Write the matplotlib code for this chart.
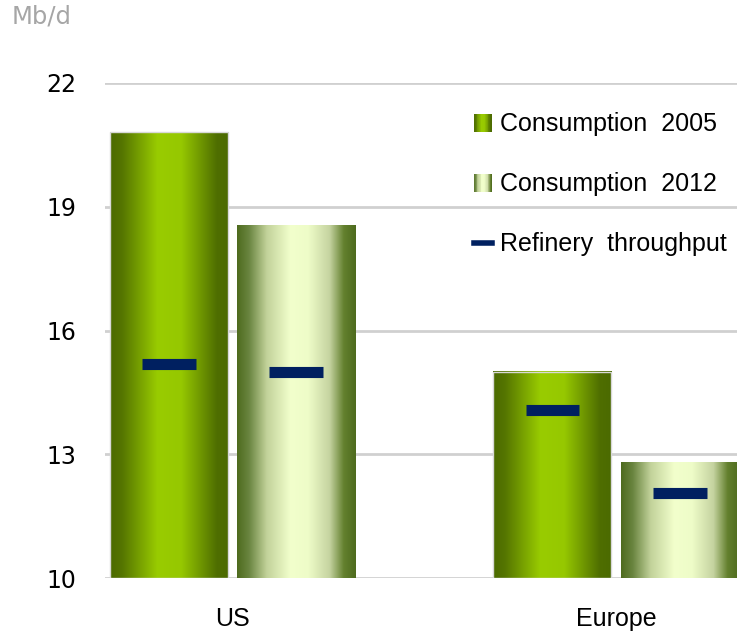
import numpy as np
import matplotlib
matplotlib.use("Agg")
import matplotlib.pyplot as plt
from matplotlib.colors import LinearSegmentedColormap
from matplotlib.patches import Patch, Rectangle
from matplotlib.lines import Line2D
from matplotlib.legend_handler import HandlerBase

regions = ["US", "Europe"]
consumption_2005 = [20.8, 15.0]
consumption_2012 = [18.55, 12.8]
refinery_throughput_2005 = [15.2, 14.08]
refinery_throughput_2012 = [15.0, 12.05]
series_labels = ["Consumption  2005", "Consumption  2012", "Refinery  throughput"]

cmap_2005 = LinearSegmentedColormap.from_list("c2005", [
    (0.0, "#4b6a00"), (0.1, "#557500"), (0.4, "#99cc00"),
    (0.6, "#96c800"), (0.9, "#4f6e00"), (1.0, "#4b6a00")])
cmap_2012 = LinearSegmentedColormap.from_list("c2012", [
    (0.0, "#4e6b1e"), (0.1, "#6a8540"), (0.25, "#c2d29a"), (0.45, "#f2ffcc"),
    (0.6, "#eefcc8"), (0.78, "#c5d3a0"), (0.9, "#63802e"), (1.0, "#4e6b1e")])
navy = "#002060"


class GradientHandler(HandlerBase):
    def __init__(self, cmap):
        super().__init__()
        self.cmap = cmap

    def create_artists(self, legend, orig_handle, xdescent, ydescent,
                       width, height, fontsize, trans):
        n = 24
        out = []
        for i in range(n):
            r = Rectangle((-xdescent + width * i / n, -ydescent), width / n * 1.05, height,
                          facecolor=self.cmap((i + 0.5) / n), edgecolor="none", transform=trans)
            out.append(r)
        return out


fig = plt.figure(figsize=(7.37, 6.32), dpi=100)
ax = fig.add_axes([105 / 737, 1 - 578 / 632, 1 - 105 / 737, (578 - 83) / 632])

x = np.arange(len(regions))
off = 0.166
w = 0.308

bars05 = ax.bar(x - off, np.array(consumption_2005) - 10, w, bottom=10,
                facecolor="none", edgecolor="#d8d8d8", linewidth=1, zorder=3)
bars12 = ax.bar(x + off, np.array(consumption_2012) - 10, w, bottom=10,
                facecolor="none", edgecolor="none", zorder=3)

grad = np.linspace(0, 1, 256).reshape(1, -1)
for bars, cmap in [(bars05, cmap_2005), (bars12, cmap_2012)]:
    for b in bars:
        x0, y0 = b.get_x(), b.get_y()
        ax.imshow(grad, cmap=cmap, aspect="auto", interpolation="bilinear",
                  extent=[x0, x0 + b.get_width(), y0, y0 + b.get_height()], zorder=2)

ax.hlines(refinery_throughput_2005, x - off - 0.07, x - off + 0.07, color=navy, lw=8, zorder=4)
ax.hlines(refinery_throughput_2012, x + off - 0.07, x + off + 0.07, color=navy, lw=8, zorder=4)

ax.set_xlim(-0.3325, 1.3155)
ax.set_ylim(10, 22)
ax.set_yticks([10, 13, 16, 19, 22])
ax.set_yticklabels([str(v) for v in [10, 13, 16, 19, 22]], fontfamily="DejaVu Sans")
ax.yaxis.grid(True, color="#d0d0d0", lw=2)
ax.set_axisbelow(True)
for s in ax.spines.values():
    s.set_visible(False)
ax.tick_params(axis="y", length=0, pad=21, labelsize=17)
ax.set_xticks(x)
ax.set_xticklabels(regions, fontfamily="Liberation Sans", fontsize=18)
ax.tick_params(axis="x", length=0, pad=21)

fig.text(12 / 737, 1 - 17 / 632, "Mb/d", color="#a6a6a6", fontsize=17.5,
         family="DejaVu Sans", va="center", ha="left")

h05 = Patch(label=series_labels[0])
h12 = Patch(label=series_labels[1])
hr = Line2D([], [], color=navy, lw=4, label=series_labels[2])
leg = ax.legend(handles=[h05, h12, hr], loc="upper left",
                bbox_to_anchor=(461 / 737, 1 - 100 / 632), bbox_transform=fig.transFigure,
                frameon=False, prop={"family": "Liberation Sans", "size": 18},
                handlelength=0.75, handleheight=0.75, handletextpad=0.3,
                labelspacing=1.44, borderpad=0,
                handler_map={h05: GradientHandler(cmap_2005), h12: GradientHandler(cmap_2012)})

fig.savefig("out.png", dpi=100)
